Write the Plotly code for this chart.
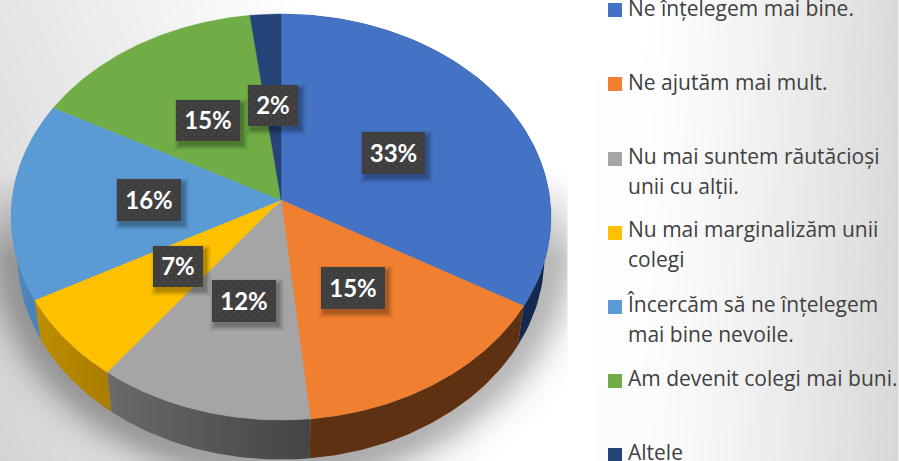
import numpy as np
import plotly.graph_objects as go

# ---------- data ----------
categories = ["Ne înțelegem mai bine.", "Ne ajutăm mai mult.", "Nu mai suntem răutăcioși unii cu alții.",
              "Nu mai marginalizăm unii colegi", "Încercăm să ne înțelegem mai bine nevoile.",
              "Am devenit colegi mai buni.", "Altele"]
values = [33.4, 15.0, 11.9, 6.8, 15.8, 15.1, 2.0]
colors = ["#4472C4", "#F07F30", "#A5A5A5", "#FFC000", "#5B9BD5", "#70AD47", "#264478"]

# ---------- layout constants ----------
W, H = 899, 461
CX, CY = 281, 200
A, B, K = 269.0, 201.6, 0.0837   # perspective disc
DEPTH, XS = 39.5, 0.976          # rim offset

rim_fill = [("#15294F", "#15294F"), ("#5F3113", "#5F3113"), ("#6A6A6A", "#444444"),
            ("#BE8E00", "#A87C00"), ("#4F8ABF", "#437AAC"), None, None]

label_boxes = [(362, 132, 425, 174), (321, 267, 385, 309), (212, 280, 276, 322), (153, 246, 203, 287),
               (117, 179, 181, 221), (176, 100, 240, 141), (248, 85, 298, 126)]

legend_square_top = [3, 77, 152, 226, 300, 374, 448]
legend_lines = [[("Ne înțelegem mai bine.", 17)], [("Ne ajutăm mai mult.", 91)],
                [("Nu mai suntem răutăcioși", 165), ("unii cu alții.", 195.5)],
                [("Nu mai marginalizăm unii", 238), ("colegi", 268.5)],
                [("Încercăm să ne înțelegem", 313), ("mai bine nevoile.", 343.5)],
                [("Am devenit colegi mai buni.", 387)], [("Altele", 461)]]
LEGEND_FONT = "Open Sans"
LABEL_FONT = "Lato"


def top_xy(theta):
    w = 1 + K * np.cos(theta)
    return CX + A * np.sin(theta) / w, CY - B * np.cos(theta) / w


def low_xy(theta):
    x, y = top_xy(theta)
    return CX + XS * (x - CX), y + DEPTH


fig = go.Figure()

# ---------- background panels ----------
gx = np.arange(0, 598, 2.0)
gy = np.arange(0, 462, 2.0)
X, Y = np.meshgrid(gx, gy)
base = np.clip(229 + 0.087 * X - 0.037 * Y, 0, 255)
r = np.sqrt(((X - CX) / 268) ** 2 + ((Y - 240) / 222) ** 2)
d = np.clip(r - 1, 0, None) * 240
shadow = 70 * np.exp(-(d / 28) ** 2) * np.clip((Y - 170) / 90, 0, 1)
shadow = np.where(X > 567, 0, shadow)
fig.add_trace(go.Heatmap(x=gx, y=gy, z=base - shadow, zmin=0, zmax=255, zsmooth="best", showscale=False,
                         colorscale=[[0, "black"], [1, "white"]], hoverinfo="skip"))
px = np.arange(597, 900, 3.0)
py = np.arange(0, 462, 3.0)
PX, PY = np.meshgrid(px, py)
panel = 255 - 37 * np.clip((PX - 640) / 259, 0, 1) ** 1.3 - 3 * PY / 461
fig.add_trace(go.Heatmap(x=px, y=py, z=panel, zmin=0, zmax=255, zsmooth="best", showscale=False,
                         colorscale=[[0, "black"], [1, "white"]], hoverinfo="skip"))

# ---------- pie from values ----------
total = sum(values)
edges = np.concatenate([[0], np.cumsum(values)]) / total * 2 * np.pi

for i, rc in enumerate(rim_fill):
    if rc is None:
        continue
    t = np.linspace(edges[i], edges[i + 1], 80)
    tx, ty = top_xy(t)
    lx, ly = low_xy(t)
    xs = np.concatenate([tx, lx[::-1], tx[:1]])
    ys = np.concatenate([ty, ly[::-1], ty[:1]])
    fig.add_trace(go.Scatter(x=xs, y=ys, mode="lines", fill="toself", line=dict(width=0, color=rc[0]),
                             fillgradient=dict(type="horizontal", colorscale=[[0, rc[0]], [1, rc[1]]]),
                             hoverinfo="skip", showlegend=False))

for i, (name, v, c) in enumerate(zip(categories, values, colors)):
    t = np.linspace(edges[i], edges[i + 1], 120)
    tx, ty = top_xy(t)
    xs = np.concatenate([[CX], tx, [CX]])
    ys = np.concatenate([[CY], ty, [CY]])
    fig.add_trace(go.Scatter(x=xs, y=ys, mode="lines", fill="toself", fillcolor=c,
                             line=dict(width=0.4, color=c), name=name, hoveron="fills",
                             text=f"{name} {round(v)}%", hoverinfo="text", showlegend=False))

# ---------- data labels ----------
for v, (x0, y0, x1, y1) in zip(values, label_boxes):
    for g, a in ((5, .05), (3.5, .07), (2, .09), (0.5, .12)):
        sx0, sy0, sx1, sy1 = x0 + 3 - g, y0 + 4 - g, x1 + 3 + g, y1 + 4 + g
        fig.add_trace(go.Scatter(x=[sx0, sx1, sx1, sx0, sx0], y=[sy0, sy0, sy1, sy1, sy0], mode="lines",
                                 fill="toself", fillcolor=f"rgba(0,0,0,{a})", line=dict(width=0),
                                 hoverinfo="skip", showlegend=False))
    fig.add_trace(go.Scatter(x=[x0, x1, x1, x0, x0], y=[y0, y0, y1, y1, y0], mode="lines", fill="toself",
                             fillcolor="#3F3F3F", line=dict(width=0), hoverinfo="skip", showlegend=False))
    dx, dy = [], []
    for row, yy in enumerate(np.arange(y0 + 3, y1 - 1, 4.0)):
        for xx in np.arange(x0 + 3 + (row % 2) * 4, x1 - 1, 8.0):
            dx.append(xx)
            dy.append(yy)
    fig.add_trace(go.Scatter(x=dx, y=dy, mode="markers", marker=dict(size=2.2, color="#4C4C4C"),
                             hoverinfo="skip", showlegend=False))
    fig.add_trace(go.Scatter(x=[(x0 + x1) / 2], y=[(y0 + y1) / 2 + 2.5], mode="text", text=[f"{round(v)}%"],
                             textposition="middle center",
                             textfont=dict(family=LABEL_FONT, size=24, color="white", weight="bold"),
                             hoverinfo="skip", showlegend=False))

# ---------- legend ----------
for c, top, lines in zip(colors, legend_square_top, legend_lines):
    fig.add_trace(go.Scatter(x=[608, 622, 622, 608, 608], y=[top, top, top + 14, top + 14, top], mode="lines",
                             fill="toself", fillcolor=c, line=dict(width=0), hoverinfo="skip", showlegend=False))
    for text, base_y in lines:
        fig.add_trace(go.Scatter(x=[628], y=[base_y - 6.5], mode="text", text=[text], textposition="middle right",
                                 textfont=dict(family=LEGEND_FONT, size=21, color="#404040"),
                                 hoverinfo="skip", showlegend=False))

fig.update_layout(width=W, height=H, margin=dict(l=0, r=0, t=0, b=0), paper_bgcolor="white", plot_bgcolor="white",
                  showlegend=False,
                  xaxis=dict(range=[0, W], visible=False, fixedrange=True),
                  yaxis=dict(range=[H, 0], visible=False, fixedrange=True))
fig.write_html("out.html", config=dict(displayModeBar=False),
               post_script="document.body.style.margin='0';document.body.style.overflow='hidden';")
